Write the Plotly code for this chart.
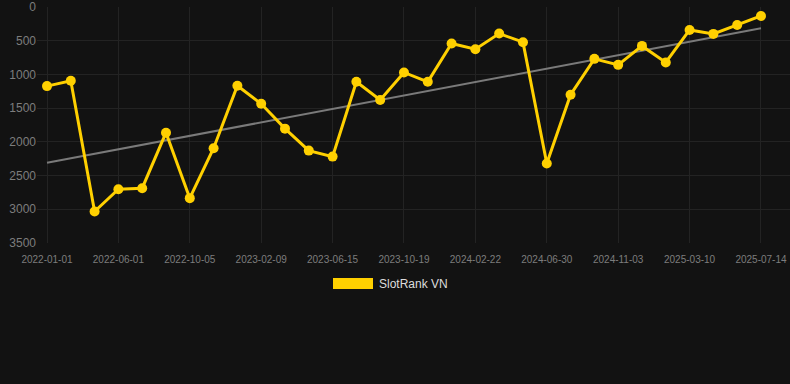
import numpy as np
import plotly.graph_objects as go

# ---- data ----
tick_labels = ["2022-01-01", "2022-06-01", "2022-10-05", "2023-02-09", "2023-06-15",
               "2023-10-19", "2024-02-22", "2024-06-30", "2024-11-03", "2025-03-10",
               "2025-07-14"]
rank_values = [1173, 1095, 3033, 2702, 2687, 1864, 2835, 2095, 1168, 1435, 1804,
               2130, 2219, 1109, 1380, 971, 1109, 542, 626, 394, 522, 2322,
               1302, 769, 858, 577, 823, 340, 399, 266, 133]
series_name = "SlotRank VN"

idx = np.arange(len(rank_values))
tick_pos = idx[::3]
slope, intercept = np.polyfit(idx, rank_values, 1)
trend = slope * idx + intercept

W, H = 790, 384
ML, MR, MT, MB = 37, 0, 7, 141
pw, ph = W - ML - MR, H - MT - MB

def px_x(p):
    return (p - ML) / pw

def px_y(p):
    return (H - MB - p) / ph

fig = go.Figure()
fig.add_trace(go.Scatter(x=idx, y=trend, mode="lines",
                         line=dict(color="#7a7a7a", width=2),
                         hoverinfo="skip", showlegend=False))
fig.add_trace(go.Scatter(x=idx, y=rank_values, mode="lines+markers", name=series_name,
                         line=dict(color="#FFD000", width=3),
                         marker=dict(color="#FFD000", size=10),
                         showlegend=False))

grid = "#232323"
fig.update_layout(
    width=W, height=H,
    margin=dict(l=ML, r=MR, t=MT, b=MB),
    paper_bgcolor="#121212", plot_bgcolor="#121212",
    font=dict(family="Arial, Liberation Sans, sans-serif", color="#7d7d7d"),
    xaxis=dict(range=[-0.42, 31.22], tickvals=tick_pos, ticktext=tick_labels,
               showgrid=True, gridcolor=grid, gridwidth=1, zeroline=False,
               showline=False, ticks="", ticklabelstandoff=9,
               tickfont=dict(size=10, color="#7d7d7d")),
    yaxis=dict(range=[3500, 0], tickvals=[0, 500, 1000, 1500, 2000, 2500, 3000, 3500],
               showgrid=True, gridcolor=grid, gridwidth=1, zeroline=False,
               showline=False, ticks="", tickfont=dict(size=12, color="#7d7d7d")),
    shapes=[dict(type="rect", xref="paper", yref="paper",
                 x0=px_x(333), x1=px_x(373), y0=px_y(289), y1=px_y(278),
                 fillcolor="#FFD000", line=dict(width=0))],
    annotations=[dict(text=series_name, xref="paper", yref="paper",
                      x=px_x(377), y=px_y(283.5), xanchor="left", yanchor="middle",
                      showarrow=False, font=dict(size=12, color="#dddddd"))],
    hovermode=False,
)

fig.write_html("out.html", config={"displayModeBar": False},
               post_script="document.body.style.margin='0';document.body.style.background='#121212';")
